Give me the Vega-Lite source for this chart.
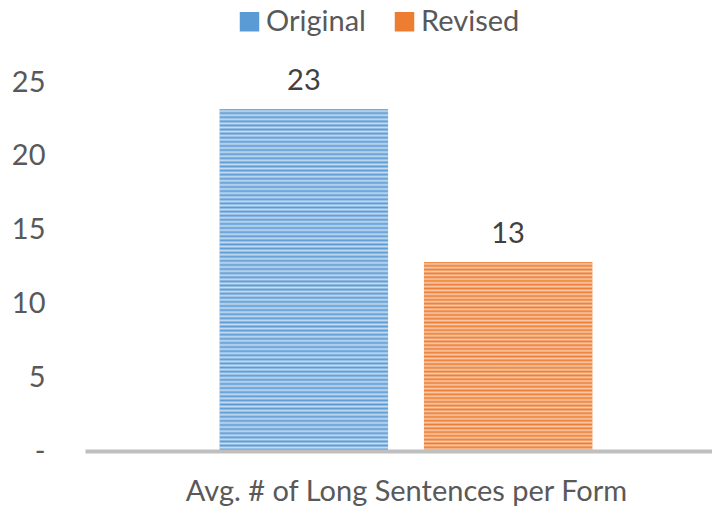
{
  "$schema": "https://vega.github.io/schema/vega-lite/v6.json",
  "width": 642,
  "height": 369,
  "autosize": {"type": "none"},
  "padding": {"left": 85, "top": 82, "right": 0, "bottom": 57},
  "background": "white",
  "config": {"view": {"stroke": null}, "font": "Lato"},
  "data": {"values": [
    {"category": "Avg. # of Long Sentences per Form", "series": "Original", "value": 23.17},
    {"category": "Avg. # of Long Sentences per Form", "series": "Revised", "value": 12.8}
  ]},
  "encoding": {
    "x": {"field": "series", "type": "nominal",
      "scale": {"domain": ["Original", "Revised"], "paddingInner": 0.176, "paddingOuter": 0.66},
      "axis": {"title": "Avg. # of Long Sentences per Form", "labels": false, "ticks": false, "zindex": 1,
        "domainColor": "#bfbfbf", "domainWidth": 4, "titleFontSize": 29, "titleColor": "#595959",
        "titleFontWeight": "normal", "titleBaseline": "alphabetic", "titlePadding": 49, "titleFont": "Lato"}},
    "y": {"field": "value", "type": "quantitative",
      "scale": {"domain": [0, 25], "nice": false},
      "axis": {"title": null, "values": [0, 5, 10, 15, 20, 25], "grid": false, "domain": false,
        "ticks": false, "tickSize": 0, "labelPadding": 40, "labelFontSize": 29, "labelColor": "#595959",
        "labelFont": "Lato", "labelExpr": "datum.value === 0 ? '-' : datum.label"}}
  },
  "layer": [
    {"mark": {"type": "bar"},
     "encoding": {"color": {"field": "series", "type": "nominal",
       "scale": {"domain": ["Original", "Revised"], "range": ["#5b9bd5", "#ed7d31"]},
       "legend": {"title": null, "orient": "none", "direction": "horizontal", "legendX": 150, "legendY": -75,
         "symbolType": "square", "symbolSize": 380, "symbolStrokeWidth": 0, "labelFontSize": 29, "labelColor": "#595959",
         "labelFont": "Lato", "labelOffset": 2, "columnPadding": 24}}}},
    {"transform": [{"filter": "datum.series === 'Original'"}],
     "mark": {"type": "bar", "fill": {"gradient": "linear", "x1": 0, "y1": 0, "x2": 0, "y2": 1, "stops": [
      {"offset":0,"color":"#5b9bd5"},{"offset":0.006,"color":"#c6dcf1"},{"offset":0.012,"color":"#5b9bd5"},{"offset":0.018,"color":"#c6dcf1"},{"offset":0.024,"color":"#5b9bd5"},{"offset":0.03,"color":"#c6dcf1"},{"offset":0.036,"color":"#5b9bd5"},{"offset":0.042,"color":"#c6dcf1"},{"offset":0.048,"color":"#5b9bd5"},{"offset":0.054,"color":"#c6dcf1"},
      {"offset":0.06,"color":"#5b9bd5"},{"offset":0.066,"color":"#c6dcf1"},{"offset":0.072,"color":"#5b9bd5"},{"offset":0.078,"color":"#c6dcf1"},{"offset":0.084,"color":"#5b9bd5"},{"offset":0.09,"color":"#c6dcf1"},{"offset":0.096,"color":"#5b9bd5"},{"offset":0.102,"color":"#c6dcf1"},{"offset":0.108,"color":"#5b9bd5"},{"offset":0.114,"color":"#c6dcf1"},
      {"offset":0.12,"color":"#5b9bd5"},{"offset":0.126,"color":"#c6dcf1"},{"offset":0.132,"color":"#5b9bd5"},{"offset":0.138,"color":"#c6dcf1"},{"offset":0.144,"color":"#5b9bd5"},{"offset":0.15,"color":"#c6dcf1"},{"offset":0.156,"color":"#5b9bd5"},{"offset":0.162,"color":"#c6dcf1"},{"offset":0.168,"color":"#5b9bd5"},{"offset":0.174,"color":"#c6dcf1"},
      {"offset":0.18,"color":"#5b9bd5"},{"offset":0.186,"color":"#c6dcf1"},{"offset":0.192,"color":"#5b9bd5"},{"offset":0.198,"color":"#c6dcf1"},{"offset":0.204,"color":"#5b9bd5"},{"offset":0.21,"color":"#c6dcf1"},{"offset":0.216,"color":"#5b9bd5"},{"offset":0.222,"color":"#c6dcf1"},{"offset":0.228,"color":"#5b9bd5"},{"offset":0.234,"color":"#c6dcf1"},
      {"offset":0.24,"color":"#5b9bd5"},{"offset":0.246,"color":"#c6dcf1"},{"offset":0.252,"color":"#5b9bd5"},{"offset":0.258,"color":"#c6dcf1"},{"offset":0.264,"color":"#5b9bd5"},{"offset":0.27,"color":"#c6dcf1"},{"offset":0.276,"color":"#5b9bd5"},{"offset":0.282,"color":"#c6dcf1"},{"offset":0.288,"color":"#5b9bd5"},{"offset":0.294,"color":"#c6dcf1"},
      {"offset":0.3,"color":"#5b9bd5"},{"offset":0.306,"color":"#c6dcf1"},{"offset":0.312,"color":"#5b9bd5"},{"offset":0.318,"color":"#c6dcf1"},{"offset":0.324,"color":"#5b9bd5"},{"offset":0.33,"color":"#c6dcf1"},{"offset":0.336,"color":"#5b9bd5"},{"offset":0.342,"color":"#c6dcf1"},{"offset":0.348,"color":"#5b9bd5"},{"offset":0.354,"color":"#c6dcf1"},
      {"offset":0.36,"color":"#5b9bd5"},{"offset":0.366,"color":"#c6dcf1"},{"offset":0.372,"color":"#5b9bd5"},{"offset":0.378,"color":"#c6dcf1"},{"offset":0.384,"color":"#5b9bd5"},{"offset":0.39,"color":"#c6dcf1"},{"offset":0.396,"color":"#5b9bd5"},{"offset":0.402,"color":"#c6dcf1"},{"offset":0.408,"color":"#5b9bd5"},{"offset":0.414,"color":"#c6dcf1"},
      {"offset":0.42,"color":"#5b9bd5"},{"offset":0.426,"color":"#c6dcf1"},{"offset":0.432,"color":"#5b9bd5"},{"offset":0.438,"color":"#c6dcf1"},{"offset":0.444,"color":"#5b9bd5"},{"offset":0.45,"color":"#c6dcf1"},{"offset":0.456,"color":"#5b9bd5"},{"offset":0.462,"color":"#c6dcf1"},{"offset":0.468,"color":"#5b9bd5"},{"offset":0.474,"color":"#c6dcf1"},
      {"offset":0.48,"color":"#5b9bd5"},{"offset":0.486,"color":"#c6dcf1"},{"offset":0.492,"color":"#5b9bd5"},{"offset":0.498,"color":"#c6dcf1"},{"offset":0.504,"color":"#5b9bd5"},{"offset":0.51,"color":"#c6dcf1"},{"offset":0.516,"color":"#5b9bd5"},{"offset":0.522,"color":"#c6dcf1"},{"offset":0.528,"color":"#5b9bd5"},{"offset":0.534,"color":"#c6dcf1"},
      {"offset":0.54,"color":"#5b9bd5"},{"offset":0.546,"color":"#c6dcf1"},{"offset":0.552,"color":"#5b9bd5"},{"offset":0.558,"color":"#c6dcf1"},{"offset":0.564,"color":"#5b9bd5"},{"offset":0.57,"color":"#c6dcf1"},{"offset":0.576,"color":"#5b9bd5"},{"offset":0.582,"color":"#c6dcf1"},{"offset":0.588,"color":"#5b9bd5"},{"offset":0.594,"color":"#c6dcf1"},
      {"offset":0.6,"color":"#5b9bd5"},{"offset":0.606,"color":"#c6dcf1"},{"offset":0.612,"color":"#5b9bd5"},{"offset":0.618,"color":"#c6dcf1"},{"offset":0.624,"color":"#5b9bd5"},{"offset":0.63,"color":"#c6dcf1"},{"offset":0.636,"color":"#5b9bd5"},{"offset":0.642,"color":"#c6dcf1"},{"offset":0.648,"color":"#5b9bd5"},{"offset":0.654,"color":"#c6dcf1"},
      {"offset":0.66,"color":"#5b9bd5"},{"offset":0.666,"color":"#c6dcf1"},{"offset":0.672,"color":"#5b9bd5"},{"offset":0.678,"color":"#c6dcf1"},{"offset":0.684,"color":"#5b9bd5"},{"offset":0.69,"color":"#c6dcf1"},{"offset":0.696,"color":"#5b9bd5"},{"offset":0.702,"color":"#c6dcf1"},{"offset":0.708,"color":"#5b9bd5"},{"offset":0.714,"color":"#c6dcf1"},
      {"offset":0.72,"color":"#5b9bd5"},{"offset":0.726,"color":"#c6dcf1"},{"offset":0.732,"color":"#5b9bd5"},{"offset":0.738,"color":"#c6dcf1"},{"offset":0.744,"color":"#5b9bd5"},{"offset":0.75,"color":"#c6dcf1"},{"offset":0.756,"color":"#5b9bd5"},{"offset":0.762,"color":"#c6dcf1"},{"offset":0.768,"color":"#5b9bd5"},{"offset":0.774,"color":"#c6dcf1"},
      {"offset":0.78,"color":"#5b9bd5"},{"offset":0.786,"color":"#c6dcf1"},{"offset":0.792,"color":"#5b9bd5"},{"offset":0.798,"color":"#c6dcf1"},{"offset":0.804,"color":"#5b9bd5"},{"offset":0.81,"color":"#c6dcf1"},{"offset":0.816,"color":"#5b9bd5"},{"offset":0.822,"color":"#c6dcf1"},{"offset":0.828,"color":"#5b9bd5"},{"offset":0.834,"color":"#c6dcf1"},
      {"offset":0.84,"color":"#5b9bd5"},{"offset":0.846,"color":"#c6dcf1"},{"offset":0.852,"color":"#5b9bd5"},{"offset":0.858,"color":"#c6dcf1"},{"offset":0.864,"color":"#5b9bd5"},{"offset":0.87,"color":"#c6dcf1"},{"offset":0.876,"color":"#5b9bd5"},{"offset":0.882,"color":"#c6dcf1"},{"offset":0.888,"color":"#5b9bd5"},{"offset":0.894,"color":"#c6dcf1"},
      {"offset":0.9,"color":"#5b9bd5"},{"offset":0.906,"color":"#c6dcf1"},{"offset":0.912,"color":"#5b9bd5"},{"offset":0.918,"color":"#c6dcf1"},{"offset":0.924,"color":"#5b9bd5"},{"offset":0.93,"color":"#c6dcf1"},{"offset":0.936,"color":"#5b9bd5"},{"offset":0.942,"color":"#c6dcf1"},{"offset":0.948,"color":"#5b9bd5"},{"offset":0.954,"color":"#c6dcf1"},
      {"offset":0.96,"color":"#5b9bd5"},{"offset":0.966,"color":"#c6dcf1"},{"offset":0.972,"color":"#5b9bd5"},{"offset":0.978,"color":"#c6dcf1"},{"offset":0.984,"color":"#5b9bd5"},{"offset":0.99,"color":"#c6dcf1"},{"offset":0.996,"color":"#5b9bd5"},{"offset":1,"color":"#c6dcf1"}
     ]}}},
    {"transform": [{"filter": "datum.series === 'Revised'"}],
     "mark": {"type": "bar", "fill": {"gradient": "linear", "x1": 0, "y1": 0, "x2": 0, "y2": 1, "stops": [
      {"offset":0,"color":"#ed7d31"},{"offset":0.01,"color":"#f8cbad"},{"offset":0.02,"color":"#ed7d31"},{"offset":0.03,"color":"#f8cbad"},{"offset":0.04,"color":"#ed7d31"},{"offset":0.05,"color":"#f8cbad"},{"offset":0.06,"color":"#ed7d31"},{"offset":0.07,"color":"#f8cbad"},{"offset":0.08,"color":"#ed7d31"},{"offset":0.09,"color":"#f8cbad"},
      {"offset":0.1,"color":"#ed7d31"},{"offset":0.11,"color":"#f8cbad"},{"offset":0.12,"color":"#ed7d31"},{"offset":0.13,"color":"#f8cbad"},{"offset":0.14,"color":"#ed7d31"},{"offset":0.15,"color":"#f8cbad"},{"offset":0.16,"color":"#ed7d31"},{"offset":0.17,"color":"#f8cbad"},{"offset":0.18,"color":"#ed7d31"},{"offset":0.19,"color":"#f8cbad"},
      {"offset":0.2,"color":"#ed7d31"},{"offset":0.21,"color":"#f8cbad"},{"offset":0.22,"color":"#ed7d31"},{"offset":0.23,"color":"#f8cbad"},{"offset":0.24,"color":"#ed7d31"},{"offset":0.25,"color":"#f8cbad"},{"offset":0.26,"color":"#ed7d31"},{"offset":0.27,"color":"#f8cbad"},{"offset":0.28,"color":"#ed7d31"},{"offset":0.29,"color":"#f8cbad"},
      {"offset":0.3,"color":"#ed7d31"},{"offset":0.31,"color":"#f8cbad"},{"offset":0.32,"color":"#ed7d31"},{"offset":0.33,"color":"#f8cbad"},{"offset":0.34,"color":"#ed7d31"},{"offset":0.35,"color":"#f8cbad"},{"offset":0.36,"color":"#ed7d31"},{"offset":0.37,"color":"#f8cbad"},{"offset":0.38,"color":"#ed7d31"},{"offset":0.39,"color":"#f8cbad"},
      {"offset":0.4,"color":"#ed7d31"},{"offset":0.41,"color":"#f8cbad"},{"offset":0.42,"color":"#ed7d31"},{"offset":0.43,"color":"#f8cbad"},{"offset":0.44,"color":"#ed7d31"},{"offset":0.45,"color":"#f8cbad"},{"offset":0.46,"color":"#ed7d31"},{"offset":0.47,"color":"#f8cbad"},{"offset":0.48,"color":"#ed7d31"},{"offset":0.49,"color":"#f8cbad"},
      {"offset":0.5,"color":"#ed7d31"},{"offset":0.51,"color":"#f8cbad"},{"offset":0.52,"color":"#ed7d31"},{"offset":0.53,"color":"#f8cbad"},{"offset":0.54,"color":"#ed7d31"},{"offset":0.55,"color":"#f8cbad"},{"offset":0.56,"color":"#ed7d31"},{"offset":0.57,"color":"#f8cbad"},{"offset":0.58,"color":"#ed7d31"},{"offset":0.59,"color":"#f8cbad"},
      {"offset":0.6,"color":"#ed7d31"},{"offset":0.61,"color":"#f8cbad"},{"offset":0.62,"color":"#ed7d31"},{"offset":0.63,"color":"#f8cbad"},{"offset":0.64,"color":"#ed7d31"},{"offset":0.65,"color":"#f8cbad"},{"offset":0.66,"color":"#ed7d31"},{"offset":0.67,"color":"#f8cbad"},{"offset":0.68,"color":"#ed7d31"},{"offset":0.69,"color":"#f8cbad"},
      {"offset":0.7,"color":"#ed7d31"},{"offset":0.71,"color":"#f8cbad"},{"offset":0.72,"color":"#ed7d31"},{"offset":0.73,"color":"#f8cbad"},{"offset":0.74,"color":"#ed7d31"},{"offset":0.75,"color":"#f8cbad"},{"offset":0.76,"color":"#ed7d31"},{"offset":0.77,"color":"#f8cbad"},{"offset":0.78,"color":"#ed7d31"},{"offset":0.79,"color":"#f8cbad"},
      {"offset":0.8,"color":"#ed7d31"},{"offset":0.81,"color":"#f8cbad"},{"offset":0.82,"color":"#ed7d31"},{"offset":0.83,"color":"#f8cbad"},{"offset":0.84,"color":"#ed7d31"},{"offset":0.85,"color":"#f8cbad"},{"offset":0.86,"color":"#ed7d31"},{"offset":0.87,"color":"#f8cbad"},{"offset":0.88,"color":"#ed7d31"},{"offset":0.89,"color":"#f8cbad"},
      {"offset":0.9,"color":"#ed7d31"},{"offset":0.91,"color":"#f8cbad"},{"offset":0.92,"color":"#ed7d31"},{"offset":0.93,"color":"#f8cbad"},{"offset":0.94,"color":"#ed7d31"},{"offset":0.95,"color":"#f8cbad"},{"offset":0.96,"color":"#ed7d31"},{"offset":0.97,"color":"#f8cbad"},{"offset":0.98,"color":"#ed7d31"},{"offset":0.99,"color":"#f8cbad"},
      {"offset":1,"color":"#ed7d31"}
     ]}}},
    {"mark": {"type": "text", "baseline": "alphabetic", "dy": -19, "fontSize": 29, "color": "#404040", "font": "Lato"},
     "encoding": {"text": {"field": "value", "type": "quantitative", "format": ".0f"}}}
  ]
}
